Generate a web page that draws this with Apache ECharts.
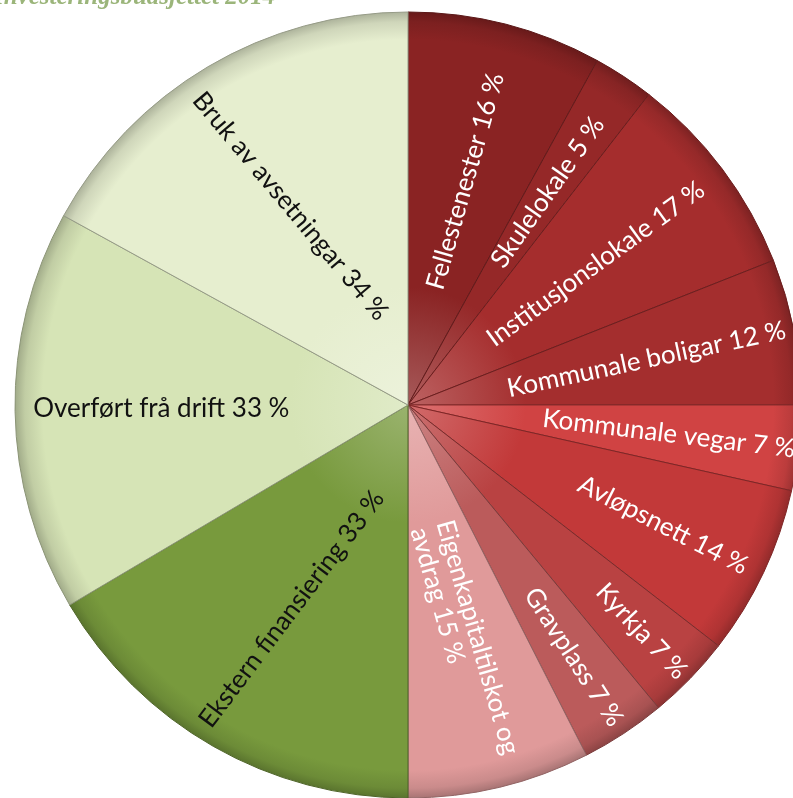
<!DOCTYPE html>
<html>
<head>
<meta charset="utf-8">
<script src="https://cdn.jsdelivr.net/npm/echarts@6/dist/echarts.min.js"></script>
<style>
html,body{margin:0;padding:0;background:#fff;}
#chart{width:793px;height:798px;}
</style>
</head>
<body>
<div id="chart"></div>
<script>
// ---- data ----
const categories = ['Fellestenester','Skulelokale','Institusjonslokale','Kommunale boligar','Kommunale vegar','Avløpsnett','Kyrkja','Gravplass','Eigenkapitaltilskot og\navdrag','Ekstern finansiering','Overført frå drift','Bruk av avsetningar'];
const values = [16,5,17,12,7,14,7,7,15,33,33,34];
const titleText = 'Investeringsbudsjettet 2014';

// ---- styles ----
const sliceColors = ['#8a2323','#952828','#a52d2d','#a42e2e','#d04343','#c23939','#b94242','#bb5b5b','#e09a9a','#789a3d','#d6e4b6','#e6eecf'];
const labelColors = ['#fff','#fff','#fff','#fff','#fff','#fff','#fff','#fff','#fff','#111','#111','#111'];
const labelRadius = [0.58,0.64,0.59,0.61,0.66,0.71,0.82,0.76,0.61,0.59,0.62,0.58];
const labelRotate = [74,55,36,12,-7,-27,-47,-57,-74,53,0,-50];

const CX = 408, CY = 405, R = 393;

function shade(hex, amt){
  const n = parseInt(hex.slice(1),16);
  let r=(n>>16)&255, g=(n>>8)&255, b=n&255;
  if(amt>0){ r=r+(255-r)*amt; g=g+(255-g)*amt; b=b+(255-b)*amt; }
  else { r=r*(1+amt); g=g*(1+amt); b=b*(1+amt); }
  return 'rgb('+Math.round(r)+','+Math.round(g)+','+Math.round(b)+')';
}
function grad(c){
  return {type:'radial', x:CX, y:CY, r:R, global:true, colorStops:[
    {offset:0, color:shade(c,0.25)},
    {offset:0.3, color:c},
    {offset:0.93, color:c},
    {offset:0.975, color:shade(c,-0.1)},
    {offset:1, color:shade(c,-0.25)}
  ]};
}

const baseData = categories.map((n,i)=>({
  name:n, value:values[i],
  itemStyle:{color:grad(sliceColors[i]), borderColor:shade(sliceColors[i],-0.35), borderWidth:1}
}));

const series = [{
  type:'pie', center:[CX,CY], radius:[0,R], startAngle:90, clockwise:true,
  silent:true, animation:false, label:{show:false}, labelLine:{show:false},
  data: baseData
}];

const groups = [...new Set(labelRadius)];
groups.forEach(f=>{
  series.push({
    type:'pie', center:[CX,CY], radius:[(2*f-1)*R, R], startAngle:90, clockwise:true,
    silent:true, animation:false, avoidLabelOverlap:false,
    itemStyle:{color:'rgba(0,0,0,0)', borderWidth:0},
    labelLine:{show:false},
    label:{show:true, position:'inside', rotate:'radial', fontFamily:'Lato', fontSize:26, lineHeight:27,
      formatter:p=>(p.name+' '+p.value+' %').split('\n').map(s=>'{l|'+s+'}').join('\n'),
      rich:{l:{align:'left', fontFamily:'Lato', fontSize:26, lineHeight:27}}},
    data: categories.map((n,i)=>({name:n, value:values[i],
      label:{show: labelRadius[i]===f, color:labelColors[i], rotate:labelRotate[i]}}))
  });
});

const chart = echarts.init(document.getElementById('chart'), null, {renderer:'canvas'});
chart.setOption({
  animation:false,
  graphic:[{type:'text', left:-6, top:-15, style:{text:titleText, fill:'#9bb57a', font:'italic bold 25px "Liberation Serif"'}}],
  series: series
});
</script>
</body>
</html>
